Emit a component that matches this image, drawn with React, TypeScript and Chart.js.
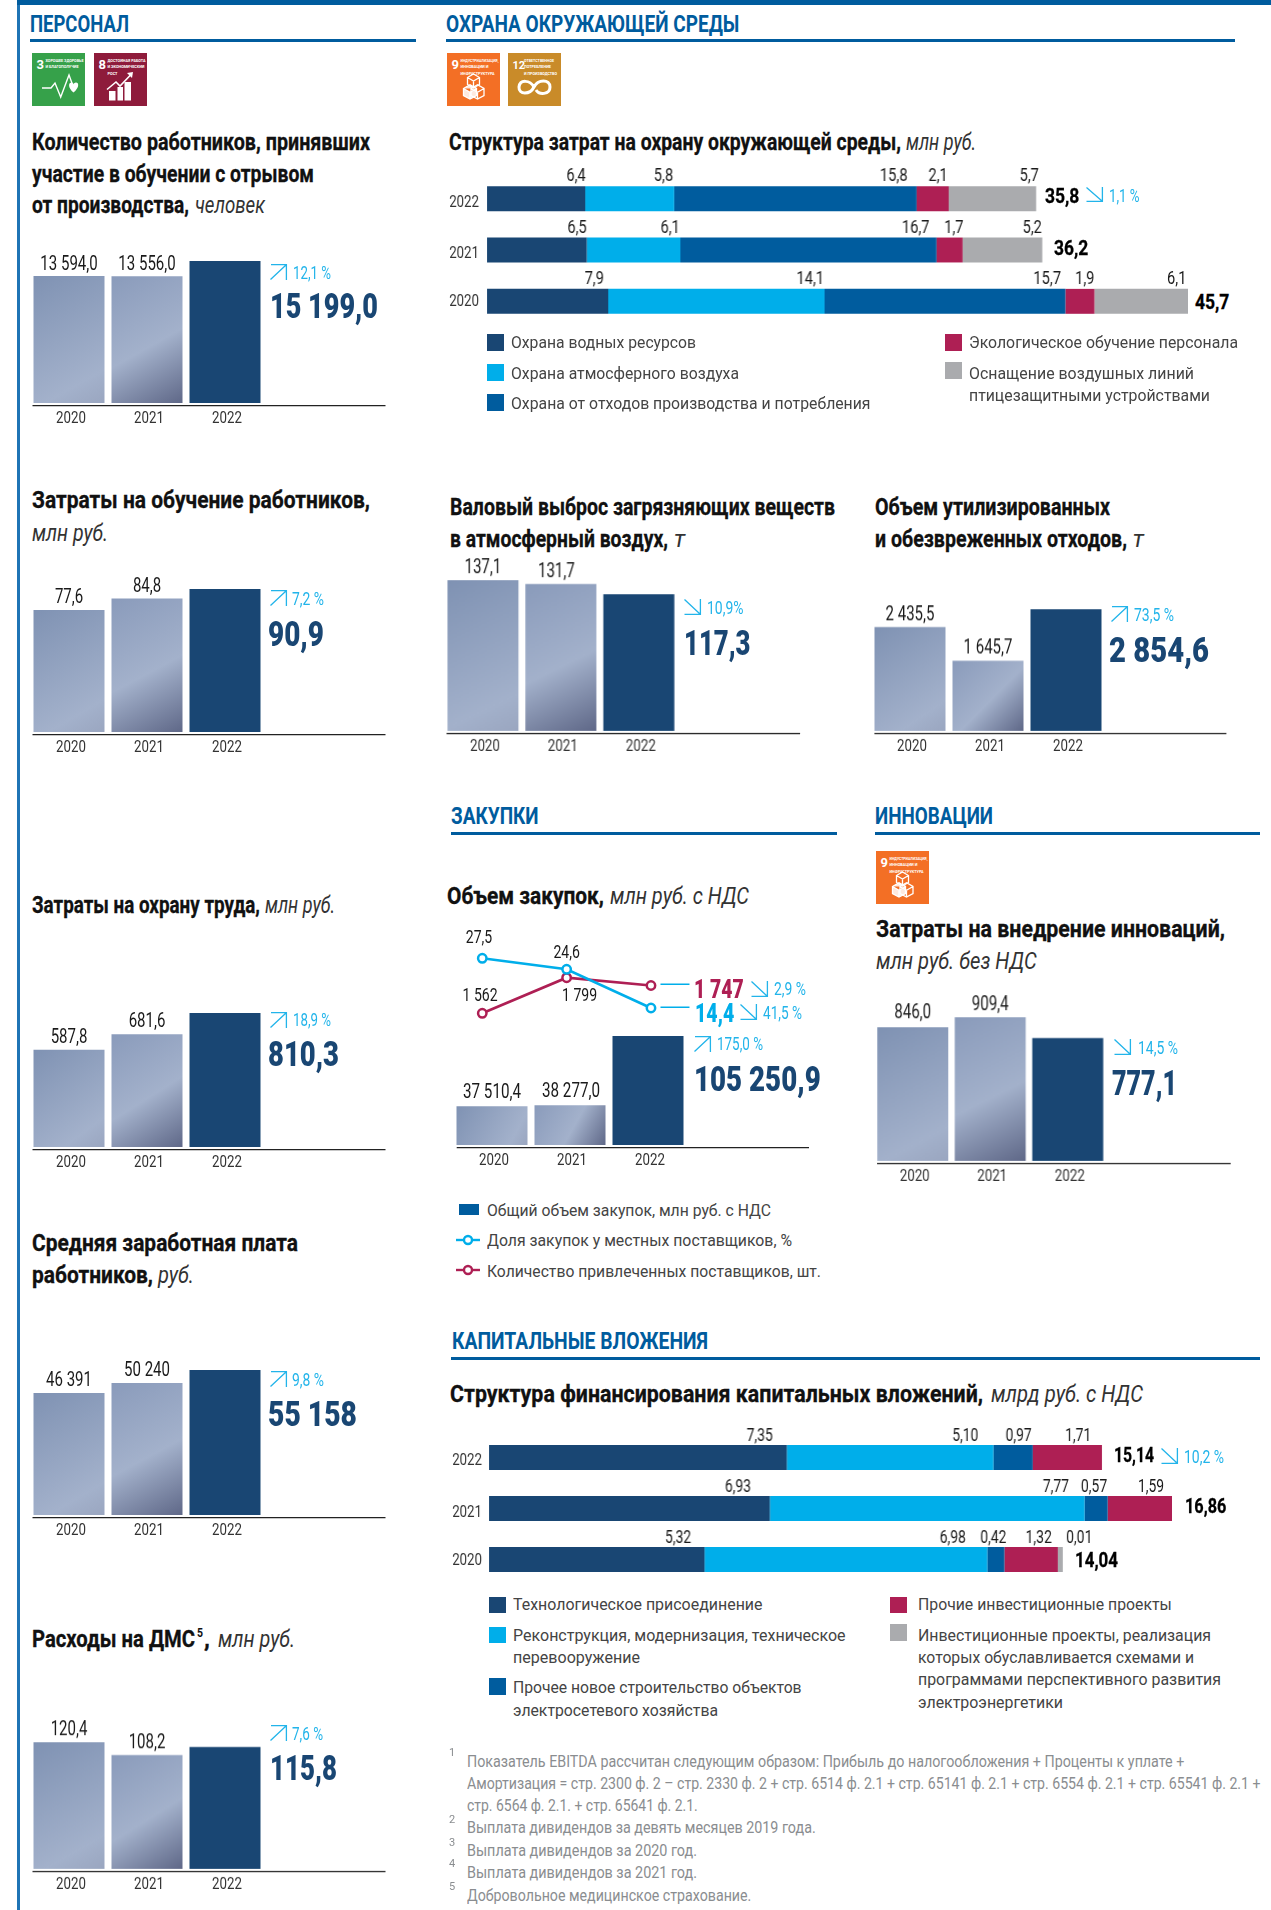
import React, { useEffect, useRef } from "react";
import { Chart, registerables } from "chart.js";

Chart.register(...registerables);

/* ---------- data ---------- */
const years = ["2020", "2021", "2022"];
const yearNumbers = [2020, 2021, 2022];
const yearsDesc = ["2022", "2021", "2020"];

const trainedWorkers = [13594, 13556, 15199];
const trainedWorkersLabels = ["13 594,0", "13 556,0"];
const trainingCosts = [77.6, 84.8, 90.9];
const trainingCostsLabels = ["77,6", "84,8"];
const safetyCosts = [587.8, 681.6, 810.3];
const safetyCostsLabels = ["587,8", "681,6"];
const averageSalary = [46391, 50240, 55158];
const averageSalaryLabels = ["46 391", "50 240"];
const insuranceCosts = [120.4, 108.2, 115.8];
const insuranceCostsLabels = ["120,4", "108,2"];
const emissions = [137.1, 131.7, 117.3];
const emissionsLabels = ["137,1", "131,7"];
const waste = [2435.5, 1645.7, 2854.6];
const wasteLabels = ["2 435,5", "1 645,7"];
const innovationCosts = [846.0, 909.4, 777.1];
const innovationCostsLabels = ["846,0", "909,4"];

const procurementTotal = [37510.4, 38277.0, 105250.9];
const procurementTotalLabels = ["37 510,4", "38 277,0"];
const localShare = [27.5, 24.6, 14.4];
const localShareLabels = ["27,5", "24,6"];
const suppliers = [1562, 1799, 1747];
const suppliersLabels = ["1 562", "1 799"];

/* the stacked series run 2022, 2021, 2020, top to bottom */
const envWater = [6.4, 6.5, 7.9];
const envAir = [5.8, 6.1, 14.1];
const envWaste = [15.8, 16.7, 15.7];
const envTraining = [2.1, 1.7, 1.9];
const envBirds = [5.7, 5.2, 6.1];
const envTotals = ["35,8", "36,2", "45,7"];
const envLegend = [
  "Охрана водных ресурсов",
  "Охрана атмосферного воздуха",
  "Охрана от отходов производства и потребления",
  "Экологическое обучение персонала",
  "Оснащение воздушных линий",
  "птицезащитными устройствами",
];

const capexConnect = [7.35, 6.93, 5.32];
const capexModern = [5.10, 7.77, 6.98];
const capexNew = [0.97, 0.57, 0.42];
const capexOther = [1.71, 1.59, 1.32];
const capexPrograms = [null, null, 0.01];
const capexTotals = ["15,14", "16,86", "14,04"];
const capexLegend = [
  "Технологическое присоединение",
  "Реконструкция, модернизация, техническое",
  "перевооружение",
  "Прочее новое строительство объектов",
  "электросетевого хозяйства",
  "Прочие инвестиционные проекты",
  "Инвестиционные проекты, реализация",
  "которых обуславливается схемами и",
  "программами перспективного развития",
  "электроэнергетики",
];
const procurementLegend = [
  "Общий объем закупок, млн руб. с НДС",
  "Доля закупок у местных поставщиков, %",
  "Количество привлеченных поставщиков, шт.",
];
const footnotes = [
  "Показатель EBITDA рассчитан следующим образом: Прибыль до налогообложения + Проценты к уплате +",
  "Амортизация = стр. 2300 ф. 2 – стр. 2330 ф. 2 + стр. 6514 ф. 2.1 + стр. 65141 ф. 2.1 + стр. 6554 ф. 2.1 + стр. 65541 ф. 2.1 +",
  "стр. 6564 ф. 2.1. + стр. 65641 ф. 2.1.",
  "Выплата дивидендов за девять месяцев 2019 года.",
  "Выплата дивидендов за 2020 год.",
  "Выплата дивидендов за 2021 год.",
  "Добровольное медицинское страхование.",
];

/* ---------- styles ---------- */
const FONT = "Roboto";
const NAVY = "#194673";
const BLUE = "#005c9e";
const SKY = "#00aeea";
const TREND = "#22b4ea";
const CRIMSON = "#ae1f54";
const GREY = "#aaabae";
const TEXT = "#444444";

const measureCtx = document.createElement("canvas").getContext("2d")!;

type TP = {
  x: number; y: number; w?: number; size: number; weight?: number; italic?: boolean;
  color?: string; stroke?: number; children: string;
};
function T({ x, y, w, size, weight = 400, italic = false, color = "#111", stroke = 0, children }: TP) {
  const font = `${italic ? "italic " : ""}${weight} ${size}px ${FONT}`;
  measureCtx.font = font;
  const natural = measureCtx.measureText(children).width || 1;
  const sx = w ? w / natural : 1;
  return (
    <div
      style={{
        position: "absolute", left: x, top: y - 0.8415 * size, font, lineHeight: `${size}px`,
        color, whiteSpace: "pre", transform: `scaleX(${sx})`, transformOrigin: "left top",
        WebkitTextStroke: stroke ? `${stroke}px ${color}` : undefined,
      }}
    >
      {children}
    </div>
  );
}

function Box({ x, y, w, h, color }: { x: number; y: number; w: number; h: number; color: string }) {
  return <div style={{ position: "absolute", left: x, top: y, width: w, height: h, background: color }} />;
}

function Header({ x, w, y = 32, lineY = 39.3, lineEnd, children }: any) {
  return (
    <>
      <T x={x} y={y} w={w} size={24} weight={700} color={BLUE}>{children}</T>
      <Box x={x - 0.5} y={lineY} w={lineEnd - x + 0.5} h={2.4} color={BLUE} />
    </>
  );
}

function Arrow({ dir, x, y, w = 17, h = 16 }: { dir: "up" | "down"; x: number; y: number; w?: number; h?: number }) {
  const d = dir === "up"
    ? `M0.5 ${h - 0.5} L${w - 1} 1 M1 0.7 H${w - 0.6} V${h}`
    : `M0.5 0.5 L${w - 1} ${h - 1} M0.5 ${h - 0.7} H${w - 0.6} V0`;
  return (
    <svg width={w} height={h} style={{ position: "absolute", left: x, top: y, overflow: "visible" }}>
      <path d={d} fill="none" stroke={TREND} strokeWidth={1.3} />
    </svg>
  );
}

function Goal({ x, y, w = 53, bg, num, lines, textLens, children }: any) {
  return (
    <svg width={w} height={53} viewBox="0 0 53 53" preserveAspectRatio="none" style={{ position: "absolute", left: x, top: y }}>
      <rect width="53" height="53" fill={bg} />
      <text x="4.5" y="16" fill="#fff" fontFamily={FONT} fontWeight={700} fontSize={num.length > 1 ? 11 : 13}>{num}</text>
      {lines.map((l: string, i: number) => (
        <text key={i} x={num.length > 1 ? 16 : 13.5} y={8.5 + i * 6.5} fill="#fff" fontFamily={FONT} fontWeight={700} fontSize={4.4}
          textLength={textLens[i]} lengthAdjust="spacingAndGlyphs">{l}</text>
      ))}
      {children}
    </svg>
  );
}

const HealthGlyph = () => (
  <>
    <polyline points="10,35 19,35 23,30 28.7,44 37,22 41,33" fill="none" stroke="#fff" strokeWidth={1.4} />
    <path d="M42 40 C36 35 37 30 40 30 C41.5 30 42 31 42 32 C42 31 43 30 44.5 30 C47.5 30 48 35 42 40 Z" fill="#fff" transform="translate(-0.5,-0.5)" />
  </>
);
const GrowthGlyph = () => (
  <>
    <path d="M15 38 h6.5 v9.5 h-6.5 Z M23.5 34 h5.5 v13.5 h-5.5 Z M30.5 29 h6.5 v18.5 h-6.5 Z" fill="#fff" />
    <polyline points="13,36.5 22,29 26,33 37,21.5" fill="none" stroke="#fff" strokeWidth={1.6} />
    <path d="M39 19 L33 20 L38 25 Z" fill="#fff" />
  </>
);
const CubesGlyph = () => (
  <g fill="none" stroke="#fff" strokeWidth={1.3}>
    <path d="M26 25 l6 -3.5 l6 3.5 v7 l-6 3.5 l-6 -3.5 Z M26 25 l6 3.5 l6 -3.5 M32 28.5 v7" transform="translate(-5.5,-0.5)" />
    <path d="M19 36 l6.500 -3.700 l6.500 3.700 v7 l-6.500 3.500 l-6.500 -3.500 Z M19 36 l6.500 3.700 l6.500 -3.700 M25.500 39.700 v7" fill="#fff" fillOpacity={0.85} transform="translate(-2.500,-0.500)" />
    <path d="M26 36 l6.500 -3.700 l6.500 3.700 v7 l-6.500 3.500 l-6.500 -3.500 Z M26 36 l6.500 3.700 l6.500 -3.700 M32.500 39.700 v7" transform="translate(-2,-0.500)" />
  </g>
);
const LoopGlyph = () => (
  <path d="M26 34 C22 27 12 26 11 34 C10.500 42 22 42 26 34 C30 26 42 26 42 34 C42 42 31 42 28 37" fill="none" stroke="#fff" strokeWidth={3} />
);

/* ---------- canvas text helper ---------- */
function drawLabel(c: CanvasRenderingContext2D, text: string, x: number, y: number, size: number, sx: number,
  align: CanvasTextAlign = "center", color = "#1a1a1a") {
  c.save();
  c.translate(x, y);
  c.scale(sx, 1);
  c.font = `400 ${size}px ${FONT}`;
  c.fillStyle = color;
  c.textAlign = align;
  c.textBaseline = "alphabetic";
  c.fillText(text, 0, 0);
  c.restore();
}

/* ---------- gradient fills ---------- */
const STOPS_2020: [number, string][] = [[0, "#7f92b3"], [0.8, "#a3b1cb"], [1, "#9aa6c0"]];
const STOPS_2021: [number, string][] = [[0, "#8a9bbb"], [0.55, "#a3b1cb"], [1, "#5f6888"]];

function columnFill(barWidth: number) {
  return (ctx: any) => {
    const i = ctx.dataIndex;
    if (i === 2 || i === undefined || !ctx.chart.chartArea) return NAVY;
    const { x, y } = ctx.chart.scales;
    const cx = x.getPixelForValue(i);
    const g = ctx.chart.ctx.createLinearGradient(
      cx - barWidth / 2, y.getPixelForValue(ctx.raw), cx + barWidth / 2, y.getPixelForValue(y.min));
    for (const [p, col] of i === 0 ? STOPS_2020 : STOPS_2021) g.addColorStop(p, col);
    return g;
  };
}

/* ---------- chart host ---------- */
function ChartHost({ left, top, width, height, config }: any) {
  const ref = useRef<HTMLCanvasElement>(null);
  useEffect(() => {
    const chart = new Chart(ref.current!, config);
    return () => chart.destroy();
  }, [config]);
  return <canvas ref={ref} width={width} height={height} style={{ position: "absolute", left, top, width, height }} />;
}

/* ---------- column chart ---------- */
type ColSpec = {
  areaLeft: number; pitch: number; barW: number; top: number; bottom: number;
  lineLen: number; lineOffset?: number; values: number[]; labels: string[]; yMin?: number;
  labelNudge?: number[]; labelGap?: number[]; tickNudge?: number[];
};
const PAD_TOP = 40, PAD_BOTTOM = 30, PAD_LEFT = 5;

function columnConfig(s: ColSpec): any {
  const w = PAD_LEFT + s.lineLen + 10;
  return {
    type: "bar",
    data: {
      labels: years,
      datasets: [{
        data: s.values,
        backgroundColor: columnFill(s.barW),
        categoryPercentage: 1,
        barPercentage: s.barW / s.pitch,
        base: s.yMin ?? 0,
      }],
    },
    options: {
      responsive: false, animation: false, maintainAspectRatio: false,
      layout: { padding: { left: PAD_LEFT, top: PAD_TOP, bottom: PAD_BOTTOM, right: w - PAD_LEFT - 3 * s.pitch } },
      plugins: { legend: { display: false }, tooltip: { enabled: false } },
      scales: {
        x: { display: false },
        y: { display: false, min: s.yMin ?? 0, max: Math.max(...s.values) },
      },
    },
    plugins: [{
      id: "columnText",
      afterDatasetsDraw(chart: any) {
        const c = chart.ctx, area = chart.chartArea, meta = chart.getDatasetMeta(0);
        s.labels.forEach((t, i) => {
          const el = meta.data[i];
          drawLabel(c, t, el.x + (s.labelNudge?.[i] ?? 0), el.y - (s.labelGap?.[i] ?? 7), 20, 0.75);
        });
        years.forEach((_, i) => {
          drawLabel(c, chart.scales.x.getLabelForValue(i), chart.scales.x.getPixelForValue(i) + (s.tickNudge?.[i] ?? 2), area.bottom + 20.3, 16, 0.83, "center", "#333");
        });
        const x0 = area.left + (s.lineOffset ?? 2.5);
        c.save();
        c.strokeStyle = "#222";
        c.lineWidth = 1.3;
        c.beginPath();
        c.moveTo(x0, area.bottom + 2.7);
        c.lineTo(x0 + s.lineLen, area.bottom + 2.7);
        c.stroke();
        c.restore();
      },
    }],
  };
}

function Columns({ spec }: { spec: ColSpec }) {
  const cfg = React.useMemo(() => columnConfig(spec), [spec]);
  return (
    <ChartHost
      left={spec.areaLeft - PAD_LEFT}
      top={spec.top - PAD_TOP}
      width={PAD_LEFT + spec.lineLen + 10}
      height={spec.bottom - spec.top + PAD_TOP + PAD_BOTTOM}
      config={cfg}
    />
  );
}

const LEFT_COL = { areaLeft: 29.5, pitch: 78, barW: 71, lineLen: 353 };
const specTrained: ColSpec = { ...LEFT_COL, top: 261, bottom: 403, values: trainedWorkers, labels: trainedWorkersLabels, labelGap: [6, 6] };
const specTraining: ColSpec = { ...LEFT_COL, top: 589, bottom: 732, values: trainingCosts, labels: trainingCostsLabels };
const specSafety: ColSpec = { ...LEFT_COL, top: 1013, bottom: 1147, values: safetyCosts, labels: safetyCostsLabels };
const specSalary: ColSpec = { ...LEFT_COL, top: 1370, bottom: 1515, values: averageSalary, labels: averageSalaryLabels };
const specInsurance: ColSpec = { ...LEFT_COL, top: 1742, bottom: 1868.7, values: insuranceCosts, labels: insuranceCostsLabels };
const specEmissions: ColSpec = {
  areaLeft: 444.1, pitch: 77.9, barW: 71, lineLen: 352.600, top: 580, bottom: 730.7,
  values: emissions, labels: emissionsLabels, yMin: -76, labelNudge: [0, -4.500],
};
const specWaste: ColSpec = {
  areaLeft: 870.6, pitch: 78, barW: 71, lineLen: 352, top: 609, bottom: 730.7,
  values: waste, labels: wasteLabels, lineOffset: 3.400,
};
const specInnovation: ColSpec = {
  areaLeft: 874.3, pitch: 77.5, barW: 71, lineLen: 352.700, top: 1017, bottom: 1160.7,
  values: innovationCosts, labels: innovationCostsLabels, lineOffset: 3, labelGap: [8.500, 7.500],
};

/* ---------- stacked horizontal ---------- */
type StackSpec = {
  areaLeft: number; scaleMax: number; areaW: number; firstCenter: number; pitch: number; barH: number;
  series: { values: (number | null)[]; color: string; minBarLength?: number }[];
  decimals: number; nudges: number[][]; yearRight: number; yearDy: number[]; sx: number; labelGap: number;
};
const STACK_PAD = { left: 45, top: 12, right: 6, bottom: 6 };

function stackConfig(s: StackSpec): any {
  return {
    type: "bar",
    data: {
      labels: yearsDesc,
      datasets: s.series.map((d) => ({
        data: d.values,
        backgroundColor: d.color,
        categoryPercentage: 1,
        barPercentage: s.barH / s.pitch,
        minBarLength: d.minBarLength,
      })),
    },
    options: {
      indexAxis: "y", responsive: false, animation: false, maintainAspectRatio: false,
      layout: { padding: STACK_PAD },
      plugins: { legend: { display: false }, tooltip: { enabled: false } },
      scales: {
        x: { display: false, stacked: true, min: 0, max: s.scaleMax },
        y: { display: false, stacked: true },
      },
    },
    plugins: [{
      id: "stackText",
      afterDatasetsDraw(chart: any) {
        const c = chart.ctx;
        s.series.forEach((d, j) => {
          const meta = chart.getDatasetMeta(j);
          meta.data.forEach((el: any, i: number) => {
            const v = chart.data.datasets[j].data[i];
            if (v == null) return;
            const top = chart.scales.y.getPixelForValue(i) - s.barH / 2;
            drawLabel(c, v.toFixed(s.decimals).replace(".", ","), el.x + s.nudges[i][j], top - s.labelGap, 19, s.sx, "right");
          });
        });
        yearsDesc.forEach((_, i) => {
          const yPx = chart.scales.y.getPixelForValue(i);
          drawLabel(c, chart.scales.y.getLabelForValue(i), STACK_PAD.left - s.yearRight, yPx + s.yearDy[i], 16, 0.83, "right", "#333");
        });
      },
    }],
  };
}

function Stack({ spec }: { spec: StackSpec }) {
  const cfg = React.useMemo(() => stackConfig(spec), [spec]);
  const areaH = spec.pitch * 3;
  return (
    <ChartHost
      left={spec.areaLeft - STACK_PAD.left}
      top={spec.firstCenter - spec.pitch / 2 - STACK_PAD.top}
      width={spec.areaW + STACK_PAD.left + STACK_PAD.right}
      height={areaH + STACK_PAD.top + STACK_PAD.bottom}
      config={cfg}
    />
  );
}

const specEnv: StackSpec = {
  areaLeft: 487.4, scaleMax: 45.7, areaW: 700.6, firstCenter: 198.5, pitch: 51.5, barH: 25,
  series: [
    { values: envWater, color: NAVY },
    { values: envAir, color: SKY },
    { values: envWaste, color: BLUE },
    { values: envTraining, color: CRIMSON },
    { values: envBirds, color: GREY },
  ],
  decimals: 1,
  nudges: [[0.5, -1, -9, -1, 2.7], [0, -0.5, -7, 1, -0.5], [-4.3, -0.5, -4.3, 0, -1.6]],
  yearRight: 8, yearDy: [8.200, 8, 4.500], sx: 0.77, labelGap: 5,
};
const specCapex: StackSpec = {
  areaLeft: 489, scaleMax: 16.86, areaW: 682.6, firstCenter: 1457.3, pitch: 51.1, barH: 25,
  series: [
    { values: capexConnect, color: NAVY },
    { values: capexModern, color: SKY },
    { values: capexNew, color: BLUE },
    { values: capexOther, color: CRIMSON },
    { values: capexPrograms, color: GREY, minBarLength: 5 },
  ],
  decimals: 2,
  nudges: [[-14, -15, -1, -10.7, 0], [-18.8, -15.600, -0.5, -8, 0], [-13.400, -21.500, 2, -6, 29.500]],
  yearRight: 7, yearDy: [7.500, 8, 5], sx: 0.73, labelGap: 4.500,
};

/* ---------- procurement: bars + two lines ---------- */
const PROC = { left: 453, right: 687, top: 950, bottom: 1145, padL: 10, padR: 130, padT: 25, padB: 30 };
const BAR_PX_PER_UNIT = 109 / 105250.9;

const procurementConfig: any = {
  type: "bar",
  data: {
    labels: years,
    datasets: [
      {
        type: "line", label: procurementLegend[1], xAxisID: "xYears", yAxisID: "yShare",
        data: yearNumbers.map((y, i) => ({ x: y, y: localShare[i] })),
        borderColor: SKY, borderWidth: 2.600, pointRadius: 4.200, pointBorderWidth: 2.500,
        pointBackgroundColor: "#fff", pointBorderColor: SKY,
      },
      {
        type: "line", label: procurementLegend[2], xAxisID: "xYears", yAxisID: "ySuppliers",
        data: yearNumbers.map((y, i) => ({ x: y, y: suppliers[i] })),
        borderColor: CRIMSON, borderWidth: 2.600, pointRadius: 4.200, pointBorderWidth: 2.500,
        pointBackgroundColor: "#fff", pointBorderColor: CRIMSON,
      },
      {
        label: procurementLegend[0], xAxisID: "x", yAxisID: "y", data: procurementTotal,
        backgroundColor: columnFill(71), categoryPercentage: 1, barPercentage: 71 / 78, grouped: false,
      },
    ],
  },
  options: {
    responsive: false, animation: false, maintainAspectRatio: false,
    layout: { padding: { left: PROC.padL, right: PROC.padR, top: PROC.padT, bottom: PROC.padB } },
    plugins: { legend: { display: false }, tooltip: { enabled: false } },
    scales: {
      x: { display: false },
      xYears: { type: "linear", display: false, offset: false, min: 2019.653, max: 2022.427 },
      y: { display: false, min: 0, max: (PROC.bottom - PROC.top) / BAR_PX_PER_UNIT },
      yShare: { display: false, min: -21.71, max: 29.69 },
      ySuppliers: { display: false, min: 685.2, max: 1983.4 },
    },
  },
  plugins: [{
    id: "procText",
    afterDatasetsDraw(chart: any) {
      const c = chart.ctx, area = chart.chartArea;
      const share = chart.getDatasetMeta(0).data, sup = chart.getDatasetMeta(1).data, bars = chart.getDatasetMeta(2).data;
      procurementTotalLabels.forEach((t, i) => drawLabel(c, t, bars[i].x + [0, 1][i], bars[i].y - 8.500, 20, 0.76));
      drawLabel(c, localShareLabels[0], share[0].x - 3.300, share[0].y - 15.600, 18.500, 0.76);
      drawLabel(c, localShareLabels[1], share[1].x, share[1].y - 11, 18.500, 0.76);
      drawLabel(c, suppliersLabels[0], sup[0].x - 2.200, sup[0].y - 12.300, 18.500, 0.76);
      drawLabel(c, suppliersLabels[1], sup[1].x + 13, sup[1].y + 23.300, 18.500, 0.76);
      years.forEach((_, i) => {
        drawLabel(c, chart.scales.x.getLabelForValue(i), chart.scales.x.getPixelForValue(i) + 2, area.bottom + 20, 16, 0.83, "center", "#333");
      });
      c.save();
      c.strokeStyle = "#222";
      c.lineWidth = 1.3;
      c.beginPath();
      c.moveTo(area.left + 3.700, area.bottom + 2.700);
      c.lineTo(area.left + 356, area.bottom + 2.700);
      c.stroke();
      c.strokeStyle = SKY;
      c.lineWidth = 1.400;
      c.beginPath();
      c.moveTo(sup[2].x + 9.500, sup[2].y - 1.300);
      c.lineTo(sup[2].x + 38.500, sup[2].y - 1.300);
      c.moveTo(share[2].x + 9.500, share[2].y - 0.700);
      c.lineTo(share[2].x + 38.500, share[2].y - 0.700);
      c.stroke();
      c.restore();
    },
  }],
};

/* ---------- page ---------- */
const Legend = ({ x, y, w = 17, h = 16.5, color }: any) => <Box x={x} y={y} w={w} h={h} color={color} />;

function Marker({ y, color }: { y: number; color: string }) {
  return (
    <svg width={26} height={14} style={{ position: "absolute", left: 455, top: y - 7 }}>
      <line x1={1} x2={25} y1={7} y2={7} stroke={color} strokeWidth={2.400} />
      <circle cx={13} cy={7} r={4} fill="#fff" stroke={color} strokeWidth={2.400} />
    </svg>
  );
}

const Big = ({ x, y, w, children, color = NAVY, size = 35 }: any) => (
  <T x={x} y={y} w={w} size={size} weight={900} color={color}>{children}</T>
);
const Pct = ({ x, y, w, children }: any) => <T x={x} y={y} w={w} size={18} color={TREND}>{children}</T>;
const Title = ({ x, y, w, children }: any) => <T x={x} y={y} w={w} size={24} weight={700} color="#111" stroke={0.3}>{children}</T>;
const Unit = ({ x, y, w, children }: any) => <T x={x} y={y} w={w} size={24} italic color="#333">{children}</T>;
const Leg = ({ x, y, w, children }: any) => <T x={x} y={y} w={w} size={17} color={TEXT}>{children}</T>;
const Tot = ({ x, y, w, children }: any) => <T x={x} y={y} w={w} size={21} weight={700} color="#000" stroke={0.3}>{children}</T>;
const Note = ({ y, w, children }: any) => <T x={466.5} y={y} w={w} size={16} color="#8a8d90">{children}</T>;
const Sup = ({ y, children }: any) => <T x={449} y={y} size={11} color="#8a8d90">{children}</T>;

export default function App() {
  return (
    <div style={{ position: "absolute", left: 0, top: 0, width: 1271, height: 1910, background: "#fff", overflow: "hidden" }}>
      <Box x={17} y={0} w={3} h={1910} color="#1f74b5" />
      <Box x={17} y={0} w={1254} h={5} color={BLUE} />

      {/* Personnel */}
      <Header x={30} w={99} lineEnd={416}>ПЕРСОНАЛ</Header>
      <Goal x={31.5} y={53} bg="#36a14a" num="3" lines={["ХОРОШЕЕ ЗДОРОВЬЕ", "И БЛАГОПОЛУЧИЕ"]} textLens={[38, 33]}><HealthGlyph /></Goal>
      <Goal x={93.5} y={53} bg="#8e1b3b" num="8" lines={["ДОСТОЙНАЯ РАБОТА", "И ЭКОНОМИЧЕСКИЙ", "РОСТ"]} textLens={[38, 37, 10]}><GrowthGlyph /></Goal>

      <Title x={32} y={150} w={338}>Количество работников, принявших</Title>
      <Title x={32} y={181.7} w={282}>участие в обучении с отрывом</Title>
      <Title x={32} y={213} w={157}>от производства,</Title>
      <Unit x={195} y={213} w={70}>человек</Unit>
      <Columns spec={specTrained} />
      <Arrow dir="up" x={270} y={264} />
      <Pct x={293} y={279.3} w={38}>12,1 %</Pct>
      <Big x={270} y={318} w={108}>15 199,0</Big>

      <Title x={32} y={508} w={338}>Затраты на обучение работников,</Title>
      <Unit x={32} y={540.7} w={76}>млн руб.</Unit>
      <Columns spec={specTraining} />
      <Arrow dir="up" x={270} y={590} />
      <Pct x={292} y={605} w={32}>7,2 %</Pct>
      <Big x={268} y={646} w={56}>90,9</Big>

      <Title x={32} y={913} w={228}>Затраты на охрану труда,</Title>
      <Unit x={265} y={913} w={70}>млн руб.</Unit>
      <Columns spec={specSafety} />
      <Arrow dir="up" x={270} y={1011.7} />
      <Pct x={293} y={1026} w={38}>18,9 %</Pct>
      <Big x={268} y={1066.7} w={71}>810,3</Big>

      <Title x={32} y={1250.7} w={266}>Средняя заработная плата</Title>
      <Title x={32} y={1283} w={121}>работников,</Title>
      <Unit x={158} y={1283} w={36}>руб.</Unit>
      <Columns spec={specSalary} />
      <Arrow dir="up" x={270} y={1371} />
      <Pct x={292} y={1385.7} w={32}>9,8 %</Pct>
      <Big x={268} y={1426} w={89}>55 158</Big>

      <Title x={32} y={1646.7} w={163}>Расходы на ДМС</Title>
      <T x={196.5} y={1637} w={6} size={13} weight={700}>5</T>
      <Title x={204} y={1646.7}>,</Title>
      <Unit x={218} y={1646.7} w={77}>млн руб.</Unit>
      <Columns spec={specInsurance} />
      <Arrow dir="up" x={270} y={1725} />
      <Pct x={292} y={1740} w={31}>7,6 %</Pct>
      <Big x={270} y={1780.7} w={67}>115,8</Big>

      {/* Environment */}
      <Header x={446} w={293.400} lineEnd={1234.800}>ОХРАНА ОКРУЖАЮЩЕЙ СРЕДЫ</Header>
      <Goal x={446.600} y={53} bg="#f36f25" num="9" lines={["ИНДУСТРИАЛИЗАЦИЯ,", "ИННОВАЦИИ И", "ИНФРАСТРУКТУРА"]} textLens={[38, 28, 34]}><CubesGlyph /></Goal>
      <Goal x={507.800} y={53} bg="#c98b29" num="12" lines={["ОТВЕТСТВЕННОЕ", "ПОТРЕБЛЕНИЕ", "И ПРОИЗВОДСТВО"]} textLens={[30, 27, 33]}><LoopGlyph /></Goal>
      <Title x={448.800} y={150} w={452}>Структура затрат на охрану окружающей среды,</Title>
      <Unit x={906.400} y={150} w={70}>млн руб.</Unit>
      <Stack spec={specEnv} />
      <Tot x={1044.800} y={203.300} w={34.400}>{envTotals[0]}</Tot>
      <Tot x={1054} y={256} w={34.300}>{envTotals[1]}</Tot>
      <Tot x={1194.500} y={310} w={34.400}>{envTotals[2]}</Tot>
      <Arrow dir="down" x={1085.600} y={186.700} w={17} h={15} />
      <Pct x={1108.700} y={201.700} w={30.600}>1,1 %</Pct>
      <Legend x={487.400} y={334} color={NAVY} />
      <Leg x={510.500} y={348.300} w={185}>{envLegend[0]}</Leg>
      <Legend x={487.400} y={364} color={SKY} />
      <Leg x={510.500} y={379.300} w={228}>{envLegend[1]}</Leg>
      <Legend x={487.400} y={394} color={BLUE} />
      <Leg x={510.500} y={409.300} w={359.500}>{envLegend[2]}</Leg>
      <Legend x={945} y={334} color={CRIMSON} />
      <Leg x={969.200} y={348.300} w={269}>{envLegend[3]}</Leg>
      <Legend x={945} y={362.300} color={GREY} />
      <Leg x={969.200} y={379.300} w={225}>{envLegend[4]}</Leg>
      <Leg x={969.200} y={401.700} w={241}>{envLegend[5]}</Leg>

      <Title x={449.900} y={515} w={385}>Валовый выброс загрязняющих веществ</Title>
      <Title x={449.900} y={546.700} w={218}>в атмосферный воздух,</Title>
      <Unit x={674} y={546.700}>т</Unit>
      <Columns spec={specEmissions} />
      <Arrow dir="down" x={683.800} y={599.300} />
      <Pct x={707.400} y={614} w={36.500}>10,9%</Pct>
      <Big x={683.800} y={655} w={66.500}>117,3</Big>

      <Title x={875.300} y={515} w={235}>Объем утилизированных</Title>
      <Title x={875.300} y={546.700} w={252}>и обезвреженных отходов,</Title>
      <Unit x={1132.800} y={546.700}>т</Unit>
      <Columns spec={specWaste} />
      <Arrow dir="up" x={1111.400} y={606} />
      <Pct x={1133.900} y={620.700} w={40}>73,5 %</Pct>
      <Big x={1108.700} y={662.700} w={100}>2 854,6</Big>

      {/* Procurement */}
      <Header x={451} w={87.600} y={824} lineY={832.200} lineEnd={837}>ЗАКУПКИ</Header>
      <Title x={447.300} y={904.300} w={157}>Объем закупок,</Title>
      <Unit x={610} y={904.300} w={139}>млн руб. с НДС</Unit>
      <ChartHost
        left={PROC.left - PROC.padL}
        top={PROC.top - PROC.padT}
        width={PROC.right - PROC.left + PROC.padL + PROC.padR}
        height={PROC.bottom - PROC.top + PROC.padT + PROC.padB}
        config={procurementConfig}
      />
      <Big x={694.300} y={997.700} w={49.700} size={25} color={CRIMSON}>1 747</Big>
      <Arrow dir="down" x={750.700} y={980.700} />
      <Pct x={774} y={995} w={32}>2,9 %</Pct>
      <Big x={695} y={1021.700} w={39.300} size={25} color={SKY}>14,4</Big>
      <Arrow dir="down" x={740} y={1004.300} />
      <Pct x={762.700} y={1019} w={39}>41,5 %</Pct>
      <Arrow dir="up" x={694} y={1036} />
      <Pct x={717.300} y={1050.300} w={46}>175,0 %</Pct>
      <Big x={694} y={1091} w={126.700}>105 250,9</Big>
      <Box x={458.700} y={1204.300} w={20.300} h={10.700} color={BLUE} />
      <Leg x={486.700} y={1216} w={284}>{procurementLegend[0]}</Leg>
      <Marker y={1240.300} color={SKY} />
      <Leg x={486.700} y={1246.700} w={305}>{procurementLegend[1]}</Leg>
      <Marker y={1270.300} color={CRIMSON} />
      <Leg x={486.700} y={1277.300} w={334}>{procurementLegend[2]}</Leg>

      {/* Innovation */}
      <Header x={875} w={118} y={824} lineY={832.200} lineEnd={1260}>ИННОВАЦИИ</Header>
      <Goal x={876} y={851} bg="#f36f25" num="9" lines={["ИНДУСТРИАЛИЗАЦИЯ,", "ИННОВАЦИИ И", "ИНФРАСТРУКТУРА"]} textLens={[38, 28, 34]}><CubesGlyph /></Goal>
      <Title x={876} y={936.700} w={349}>Затраты на внедрение инноваций,</Title>
      <Unit x={876} y={969} w={160.700}>млн руб. без НДС</Unit>
      <Columns spec={specInnovation} />
      <Arrow dir="down" x={1114.300} y={1039.300} />
      <Pct x={1137.700} y={1054} w={40}>14,5 %</Pct>
      <Big x={1112.300} y={1095.700} w={65}>777,1</Big>

      {/* Capex */}
      <Header x={451.500} w={256} y={1349.300} lineY={1357.300} lineEnd={1260}>КАПИТАЛЬНЫЕ ВЛОЖЕНИЯ</Header>
      <Title x={449.800} y={1402} w={533}>Структура финансирования капитальных вложений,</Title>
      <Unit x={990.600} y={1402} w={152}>млрд руб. с НДС</Unit>
      <Stack spec={specCapex} />
      <Tot x={1114} y={1462.200} w={40}>{capexTotals[0]}</Tot>
      <Tot x={1184.800} y={1513.800} w={41.300}>{capexTotals[1]}</Tot>
      <Tot x={1075.400} y={1567.600} w={43}>{capexTotals[2]}</Tot>
      <Arrow dir="down" x={1160.700} y={1448} />
      <Pct x={1183.800} y={1463} w={40}>10,2 %</Pct>
      <Legend x={489} y={1596.500} color={NAVY} />
      <Leg x={513.200} y={1610.400} w={249.500}>{capexLegend[0]}</Leg>
      <Legend x={489} y={1626.600} color={SKY} />
      <Leg x={513.200} y={1641.700} w={332.600}>{capexLegend[1]}</Leg>
      <Leg x={513.200} y={1663} w={127}>{capexLegend[2]}</Leg>
      <Legend x={489} y={1678} color={BLUE} />
      <Leg x={513.200} y={1693.200} w={288.600}>{capexLegend[3]}</Leg>
      <Leg x={513.200} y={1716.200} w={205}>{capexLegend[4]}</Leg>
      <Legend x={890.300} y={1596.500} color={CRIMSON} />
      <Leg x={918.200} y={1610.400} w={253.800}>{capexLegend[5]}</Leg>
      <Legend x={890.300} y={1624} color={GREY} />
      <Leg x={918.200} y={1641.700} w={293}>{capexLegend[6]}</Leg>
      <Leg x={918.200} y={1663} w={276}>{capexLegend[7]}</Leg>
      <Leg x={918.200} y={1685} w={303}>{capexLegend[8]}</Leg>
      <Leg x={918.200} y={1708.300} w={145}>{capexLegend[9]}</Leg>

      {/* Footnotes */}
      <Sup y={1756.400}>1</Sup>
      <Note y={1767} w={717.300}>{footnotes[0]}</Note>
      <Note y={1789} w={793.500}>{footnotes[1]}</Note>
      <Note y={1811.700} w={230.700}>{footnotes[2]}</Note>
      <Sup y={1823.400}>2</Sup>
      <Note y={1833.500} w={348.700}>{footnotes[3]}</Note>
      <Sup y={1846}>3</Sup>
      <Note y={1856} w={230}>{footnotes[4]}</Note>
      <Sup y={1867.400}>4</Sup>
      <Note y={1878.700} w={230}>{footnotes[5]}</Note>
      <Sup y={1890}>5</Sup>
      <Note y={1901.300} w={284.300}>{footnotes[6]}</Note>
    </div>
  );
}
